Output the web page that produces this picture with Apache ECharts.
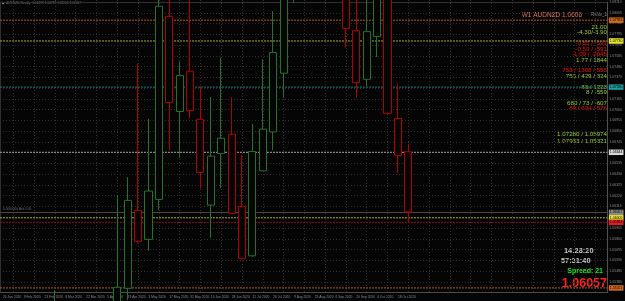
<!DOCTYPE html>
<html><head><meta charset="utf-8">
<script src="https://cdn.jsdelivr.net/npm/echarts@6/dist/echarts.min.js"></script>
<style>html,body{margin:0;padding:0;background:#050505;}#c{width:625px;height:301px;}</style>
</head><body><div id="c"></div>
<script>
// ---- data ----
const categories = ['26 Jan 2020','2 Feb 2020','9 Feb 2020','16 Feb 2020','23 Feb 2020','1 Mar 2020','8 Mar 2020','15 Mar 2020','22 Mar 2020','29 Mar 2020',
  '5 Apr 2020','12 Apr 2020','19 Apr 2020','26 Apr 2020','3 May 2020','10 May 2020','17 May 2020','24 May 2020','31 May 2020','7 Jun 2020',
  '14 Jun 2020','21 Jun 2020','28 Jun 2020','5 Jul 2020','12 Jul 2020','19 Jul 2020','26 Jul 2020','2 Aug 2020','9 Aug 2020','16 Aug 2020',
  '23 Aug 2020','30 Aug 2020','6 Sep 2020','13 Sep 2020','20 Sep 2020','27 Sep 2020','4 Oct 2020','11 Oct 2020','18 Oct 2020','25 Oct 2020'];
const opens = [1.0420,1.0395,1.0380,1.0410,1.0390,1.0400,1.0440,1.0380,1.0250,1.0260,1.0300,
  1.04913,1.05317,1.06072,1.05791,1.06178,1.07952,1.07030,1.07420,1.06955,1.06123,1.06623,1.06810,1.06110,1.05632,1.06455,1.06832,1.07401,1.08494,1.0917,1.0960,1.0930,1.0900,1.0880,1.07814,1.07342,1.07756,1.0845,1.06962,1.06639];
const closes = [1.0395,1.0380,1.0410,1.0390,1.0400,1.0440,1.0380,1.0250,1.0260,1.0300,1.0490,
  1.05327,1.06169,1.05772,1.06259,1.08049,1.07117,1.07378,1.07040,1.06440,1.06597,1.06771,1.06043,1.05607,1.06643,1.06859,1.07601,1.08494,1.09171,1.0960,1.0930,1.0900,1.0880,1.07833,1.07311,1.07804,1.0850,1.07011,1.06604,1.06057];
const lows = [1.0380,1.0360,1.0365,1.0370,1.0360,1.0385,1.0300,1.0180,1.0140,1.0220,1.0290,
  1.04817,1.05204,1.05755,1.05681,1.06075,1.06655,1.06581,1.06962,1.06285,1.05807,1.06285,1.06036,1.05598,1.05623,1.06452,1.06655,1.07165,1.08081,1.0895,1.0905,1.0870,1.0840,1.07652,1.07165,1.07275,1.07558,1.06994,1.06436,1.05961];
const highs = [1.0440,1.0420,1.0430,1.0425,1.0440,1.0530,1.0500,1.0420,1.0350,1.0380,1.0520,
  1.06220,1.06394,1.07497,1.06958,1.08252,1.08204,1.07514,1.08155,1.07275,1.07171,1.07552,1.07168,1.06610,1.06910,1.07536,1.08003,1.08639,1.09365,1.0985,1.0990,1.0960,1.0935,1.0905,1.0840,1.0830,1.0870,1.0865,1.07301,1.06713];
const futureSlots = 19;
const axisMin = 1.052753;
const gridStep = 0.00105;
const gridCount = 27;
const levels = [1.07933, 1.07730, 1.07280, 1.06644, 1.06057, 1.06005, 1.05961, 1.05321];
const statLines = ['21.00','-4.30/-3.90','-0.55 / -591','-0.59 / -591','-1.09 / -2045','1.77 / 1844',
  '753 / 1308 / 553','753 / 429 / 324','83 / 1223','8 / -559','680 / 73 / -607','80 / 694 / 576',
  '1.07280 / 1.05974','1.07933 / 1.05321'];
const clockText = '14:28:20';
const timerText = '57:31:40';
const spreadText = 'Spread: 21';
const symbolName = 'AUDNZD';

// ---- styles ----
const FONT = '"Liberation Sans", Arial, sans-serif';
const BG = '#050505', GRIDC = '#2e2e2e', BULL = '#24722a', BEAR = '#b00000';
const YG = '#9acd32', RED = '#f01010';
const levelStyles = [
  {c:'#b5581c', box:'#d2691e', t:[2,1]},
  {c:'#a8a830', box:'#e6e62e', t:[2,1]},
  {c:'#1c7a7a', box:'#1e9a9a', t:[2,1]},
  {c:'#a0a0a0', box:'#d8d8d8', t:[2,1]},
  {c:'#4a4a4a', box:'#8a8a8a', t:'solid'},
  {c:'#a8a830', box:'#e6e62e', t:[2,1]},
  {c:'#8e1212', box:'#e02020', t:[2,1]},
  {c:'#b5581c', box:'#d2691e', t:[2,1]}
];
const statColors = [YG,YG,RED,RED,RED,YG,RED,YG,YG,YG,YG,RED,YG,YG];
const statY = [27,32.5,43.5,49,54.5,60,70.7,75.8,87,92.3,103.3,108.4,134,141.7];

const axisMax = axisMin + gridCount * gridStep;
const cats = categories.concat(Array.from({length: futureSlots}, (_, i) => 'f' + i));
const candleData = opens.map((o, i) => [o, closes[i], lows[i], highs[i]]);
const n = closes.length;
const last = n - 1;

const txt = (text, x, y, fill, font, align) => ({type:'text', silent:true, style:{text, x, y, fill, font,
  align, verticalAlign:'middle', textAlign:align, textVerticalAlign:'middle'}});
const texts = [];
texts.push({type:'rect', silent:true, shape:{x:2, y:2, width:2.2, height:2.2}, style:{fill:'#777'}});
texts.push(txt(symbolName + ',Weekly  ' + opens[last].toFixed(5) + ' ' + highs[last].toFixed(5) + ' ' + lows[last].toFixed(5) + ' ' + closes[last].toFixed(5),
  6, 3.2, '#7a7a7a', '3.2px ' + FONT, 'left'));
texts.push(txt('W1 ' + symbolName + ' ' + closes[last].toFixed(4), 582, 15, '#e6735c', '6.5px ' + FONT, 'right'));
texts.push(txt('RsNv_1', 607, 15, '#8a8a8a', '4.5px ' + FONT, 'right'));
statLines.forEach((s, i) => texts.push(txt(s, 607, statY[i], statColors[i], '6.2px ' + FONT, 'right')));
texts.push(txt('0.0000000 Ask 0.00', 3, 208.7, '#6a6a6a', '3.2px ' + FONT, 'left'));
texts.push(txt(clockText, 593.5, 250.5, '#c8c8c8', 'bold 7.4px ' + FONT, 'right'));
texts.push(txt(timerText, 590.5, 260.5, '#c8c8c8', 'bold 7.4px ' + FONT, 'right'));
texts.push(txt(spreadText, 603, 271.5, '#1ee61e', 'bold 7px ' + FONT, 'right'));
texts.push(txt(closes[last].toFixed(5), 607, 283.8, '#ff2020', 'bold 12.5px ' + FONT, 'right'));

const levelSeries = levels.map((v, i) => ({
  type:'line', xAxisIndex:1, yAxisIndex:1, data:[[0, v], [1, v]], symbol:'none', silent:true,
  lineStyle:{color:levelStyles[i].c, type:levelStyles[i].t, width:1},
  endLabel:{show:true, distance:1.5, fontSize:3.5, color:'#000', padding:[1,1,0.5,1], fontFamily:FONT,
    backgroundColor:levelStyles[i].box, formatter:() => v.toFixed(5)},
  z:3
}));

const chart = echarts.init(document.getElementById('c'), null, {renderer:'canvas'});
chart.setOption({
  animation: false,
  backgroundColor: BG,
  grid: [
    {left: 0.8, top: 0, width: 58 * 10.43, height: 292.6},
    {left: 0, top: 0, width: 611, height: 292.6}
  ],
  xAxis: [
    {type:'category', gridIndex:0, data:cats, boundaryGap:false,
      axisLine:{show:false}, axisTick:{show:false},
      axisLabel:{interval:(i) => i % 2 === 0 && i < n, align:'left', fontSize:3.3, color:'#8a8a8a', margin:2.6, fontFamily:FONT},
      splitLine:{show:true, interval:(i) => i % 2 === 1, lineStyle:{color:GRIDC, type:[1,2], width:1}}},
    {type:'value', gridIndex:1, min:0, max:1, position:'bottom',
      axisLine:{show:true, onZero:false, lineStyle:{color:'#4a4a4a'}}, axisTick:{show:false}, axisLabel:{show:false}, splitLine:{show:false}},
    {type:'value', gridIndex:1, min:0, max:1, position:'top',
      axisLine:{show:true, onZero:false, lineStyle:{color:'#303030'}}, axisTick:{show:false}, axisLabel:{show:false}, splitLine:{show:false}}
  ],
  yAxis: [
    {type:'value', gridIndex:0, min:axisMin, max:axisMax, show:false, scale:true},
    {type:'value', gridIndex:1, min:axisMin, max:axisMax, position:'left', scale:true,
      axisLine:{show:true, onZero:false, lineStyle:{color:'#303030'}}, axisTick:{show:false}, axisLabel:{show:false}, splitLine:{show:false}},
    {type:'value', gridIndex:1, min:0, max:gridCount, interval:1, position:'right',
      axisLine:{show:true, onZero:false, lineStyle:{color:'#505050'}}, axisTick:{show:false},
      axisLabel:{fontSize:3.5, color:'#8a8a8a', margin:2, fontFamily:FONT, showMinLabel:false,
        formatter:(v) => (axisMin + v * gridStep).toFixed(5)},
      splitLine:{show:true, lineStyle:{color:GRIDC, type:[1,2], width:1}}}
  ],
  series: [
    {type:'candlestick', xAxisIndex:0, yAxisIndex:0, data:candleData, barWidth:7.6, silent:true, clip:true,
      itemStyle:{color:BG, color0:BG, borderColor:BULL, borderColor0:BEAR, borderWidth:1}, z:4}
  ].concat(levelSeries),
  graphic: texts
});
</script>
</body></html>
